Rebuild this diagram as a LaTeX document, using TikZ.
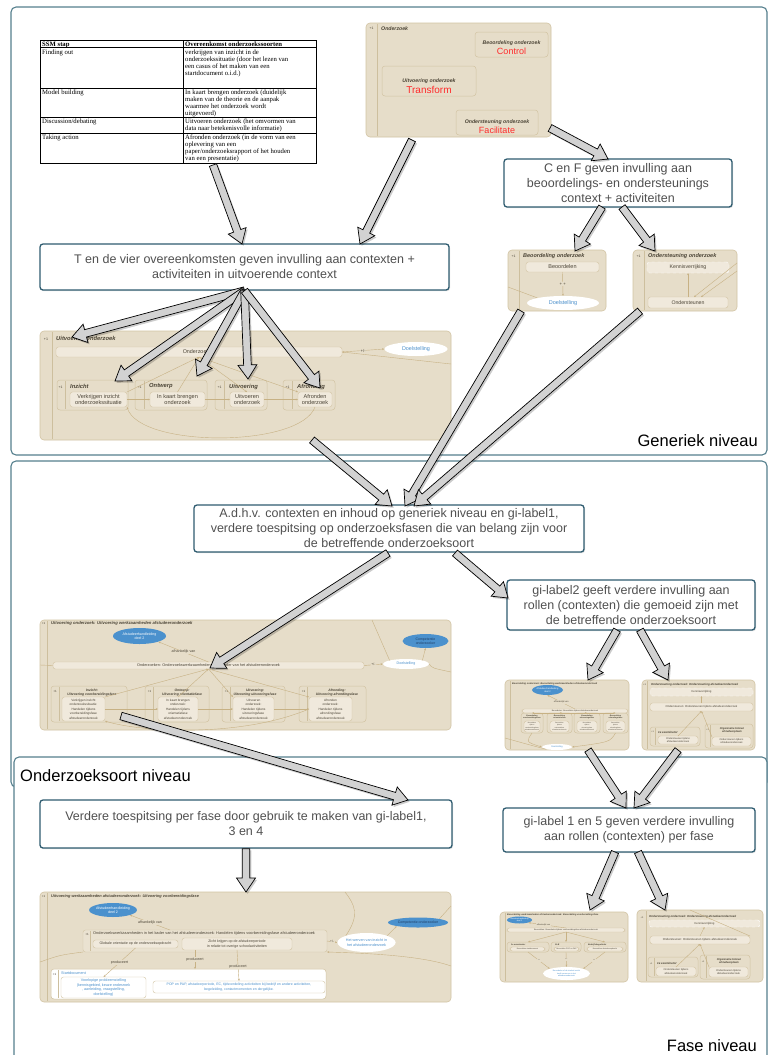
\documentclass[tikz,border=0pt]{standalone}
\usepackage{fontspec}
\setmainfont{Liberation Sans}
\newfontfamily\tabfont{Liberation Serif}
\usetikzlibrary{calc,shapes.geometric,arrows.meta,shadows}

\definecolor{frameC}{HTML}{557F8D}
\definecolor{callC}{HTML}{2F5C70}
\definecolor{callT}{HTML}{505050}
\definecolor{beige}{HTML}{E6DDC9}
\definecolor{beigeD}{HTML}{D2C4A3}
\definecolor{innerC}{HTML}{F0E9DC}
\definecolor{relC}{HTML}{C7B184}
\definecolor{blueE}{HTML}{4B91CD}
\definecolor{blueT}{HTML}{4A8FCB}
\definecolor{navyT}{HTML}{1F3F66}
\definecolor{redT}{HTML}{FF2B2B}
\definecolor{txt}{HTML}{4B4436}
\definecolor{stripC}{HTML}{CDBF9E}
\definecolor{arrF}{HTML}{D2D2D2}

\newcommand\fsz[2]{\fontsize{#1}{#2}\selectfont}
% wide outlined arrow from coordinate #1 to coordinate #2, with a soft shadow
\newcommand\fat[2]{%
  \path ($(#2)!14pt!(#1)$) coordinate (fh);
  \begin{scope}[transform canvas={shift={(1.6pt,-1.8pt)}}]
    \fill[fatshade] ($(#1)!3.8pt!90:(#2)$) -- ($(fh)!3.8pt!90:(#2)$) -- ($(fh)!9.5pt!90:(#2)$) -- (#2) -- ($(fh)!9.5pt!-90:(#2)$) -- ($(fh)!3.8pt!-90:(#2)$) -- ($(#1)!3.8pt!-90:(#2)$) -- cycle;
  \end{scope}
  \filldraw[fatbody] ($(#1)!3.8pt!90:(#2)$) -- ($(fh)!3.8pt!90:(#2)$) -- ($(fh)!9.5pt!90:(#2)$) -- (#2) -- ($(fh)!9.5pt!-90:(#2)$) -- ($(fh)!3.8pt!-90:(#2)$) -- ($(#1)!3.8pt!-90:(#2)$) -- cycle;
}

\begin{document}
\begin{tikzpicture}[x=1pt,y=-1pt,
  frame/.style={draw=frameC,line width=1.1pt,rounded corners=5pt,fill=white,anchor=north west,inner sep=0pt,outer sep=0pt},
  lvl/.style={inner sep=0pt,text=black,font=\fsz{16.5}{18}},
  callout/.style={draw=callC,line width=1.3pt,rounded corners=3pt,fill=white,text=callT,align=center,inner sep=0pt,font=\fsz{12.5}{15},drop shadow={opacity=.25,shadow xshift=1pt,shadow yshift=-1.2pt}},
  panel/.style={fill=beige,draw=beigeD,line width=.6pt,rounded corners=4pt,anchor=north west,inner sep=0pt,outer sep=0pt},
  sub/.style={draw=beigeD,line width=.5pt,rounded corners=3pt,anchor=north west,inner sep=0pt,outer sep=0pt},
  inb/.style={fill=innerC,draw=beigeD,line width=.4pt,rounded corners=2.5pt,anchor=north west,inner sep=0pt,outer sep=0pt,text=txt,align=center},
  ellB/.style={ellipse,fill=blueE,text=white,inner sep=0pt,align=center},
  ellW/.style={ellipse,fill=white,text=blueT,inner sep=0pt,align=center},
  strip/.style={draw=stripC,line width=.5pt},
  pl/.style={inner sep=0pt,text=txt,font=\fsz{#1}{#1}},
  tt/.style={inner sep=0pt,anchor=west,text=txt,font=\fsz{#1}{#1}\bfseries\itshape},
  rel/.style={draw=relC,line width=.4pt,-{Stealth[length=2.2pt,width=1.8pt]}},
  rl/.style={draw=relC,line width=.4pt},
  lb/.style={fill=beige,inner sep=.6pt,text=txt,font=\fsz{#1}{#1}},
  cell/.style={anchor=north west,inner sep=0pt,align=left,text=black,font=\tabfont\fsz{6.7}{7.1}},
  tabline/.style={draw=black,line width=.6pt},
  fatbody/.style={fill=arrF,draw=black,line width=.7pt,line join=miter},
  fatshade/.style={fill=black,opacity=.2,draw=none}
]
\useasboundingbox (0,0) rectangle (771,1055);

% ---------- level frames ----------
\node[frame,minimum width=756,minimum height=448] (lvA) at (11,7) {};
\node[frame,minimum width=756,minimum height=326] (lvB) at (11,461) {};
\node[frame,minimum width=753,minimum height=305] (lvC) at (14,757) {};
\node[lvl,anchor=base east] (lblA) at (758,446) {Generiek niveau};
\node[lvl,anchor=base west] (lblB) at (20,781) {Onderzoeksoort niveau};
\node[lvl,anchor=base east] (lblC) at (757,1051) {Fase niveau};

% ---------- SSM table ----------
\draw[tabline] (40,40) rectangle (316,163);
\draw[tabline] (183,40) -- (183,163);
\foreach \ry in {47.5,88,117,133} { \draw[tabline] (40,\ry) -- (316,\ry); }
\node[cell] (t11) at (42,41.6) {\bfseries SSM stap};
\node[cell] (t12) at (185,41.6) {\bfseries Overeenkomst onderzoekssoorten};
\node[cell] (t21) at (42,49.5) {Finding out};
\node[cell] (t22) at (185,49.5) {verkrijgen van inzicht in de\\onderzoekssituatie (door het lezen van\\een casus of het maken van een\\startdocument o.i.d.)};
\node[cell] (t31) at (42,89.5) {Model building};
\node[cell] (t32) at (185,89.5) {In kaart brengen onderzoek (duidelijk\\maken van de theorie en de aanpak\\waarmee het onderzoek wordt\\uitgevoerd)};
\node[cell] (t41) at (42,118.5) {Discussion/debating};
\node[cell] (t42) at (185,118.5) {Uitvoeren onderzoek (het omvormen van\\data naar betekenisvolle informatie)};
\node[cell] (t51) at (42,134.5) {Taking action};
\node[cell] (t52) at (185,134.5) {Afronden onderzoek (in de vorm van een\\oplevering van een\\paper/onderzoeksrapport of het houden\\van een presentatie)};

% ---------- Onderzoek (CTF) ----------
\node[panel,minimum width=185,minimum height=114] (op) at (366,23) {};
\draw[strip] (377,24) -- (377,136);
\node[pl=3.4] (opP) at (371.5,28.5) {+1};
\node[tt=5.2] (opT) at (381,28.5) {Onderzoek};
\node[sub,minimum width=73,minimum height=25] (opC) at (475,32) {};
\node[tt=5.2,anchor=center] (opCt) at (511.5,43) {Beoordeling onderzoek};
\node[inner sep=0pt,text=redT,font=\fsz{9}{9}] (opCr) at (511.5,51.5) {Control};
\node[sub,minimum width=94,minimum height=30] (opU) at (382,66) {};
\node[tt=5.2,anchor=center] (opUt) at (429,81) {Uitvoering onderzoek};
\node[inner sep=0pt,text=redT,font=\fsz{10}{10}] (opUr) at (429,90) {Transform};
\node[sub,minimum width=82,minimum height=25] (opF) at (456,110) {};
\node[tt=5.2,anchor=center] (opFt) at (497,122) {Ondersteuning onderzoek};
\node[inner sep=0pt,text=redT,font=\fsz{9}{9}] (opFr) at (497,130) {Facilitate};

% ---------- generic: Uitvoering onderzoek ----------
\node[panel,minimum width=411,minimum height=109] (gp) at (40,331) {};
\draw[strip] (52,332) -- (52,439);
\node[pl=3.6] (gpP) at (46,339) {+1};
\node[tt=5.8] (gpT) at (56,339) {Uitvoering onderzoek};
\node[inb,minimum width=286,minimum height=10,font=\fsz{5.4}{6}] (gbar) at (56,347) {Onderzoeken};
\node[ellW,minimum width=63,minimum height=14,font=\fsz{5.4}{6}] (gdoel) at (416,349) {Doelstelling};
\draw[rel] (gbar.east) -- node[lb=4.2] {+/-} (gdoel.west);

\node[sub,minimum width=71,minimum height=30] (gs1) at (57,380) {};
\draw[strip] (65,381) -- (65,409);
\node[pl=3.4] at (60.5,387) {+1};
\node[tt=5.8] (gs1t) at (70,386.5) {Inzicht};
\node[inb,minimum width=57,minimum height=15,font=\fsz{5.6}{6.4}] (gi1) at (70,392) {Verkrijgen inzicht\\onderzoekssituatie};

\node[sub,minimum width=72,minimum height=30] (gs2) at (135,380) {};
\draw[strip] (144,381) -- (144,409);
\node[pl=3.4] at (139.5,387) {+1};
\node[tt=5.8] (gs2t) at (149,386.5) {Ontwerp};
\node[inb,minimum width=55,minimum height=15,font=\fsz{5.6}{6.4}] (gi2) at (150,392) {In kaart brengen\\onderzoek};

\node[sub,minimum width=52,minimum height=30] (gs3) at (215,380) {};
\draw[strip] (224,381) -- (224,409);
\node[pl=3.4] at (219.5,387) {+1};
\node[tt=5.8] (gs3t) at (229,386.5) {Uitvoering};
\node[inb,minimum width=34,minimum height=15,font=\fsz{5.6}{6.4}] (gi3) at (230,392) {Uitvoeren\\onderzoek};

\node[sub,minimum width=52,minimum height=30] (gs4) at (283,380) {};
\draw[strip] (292,381) -- (292,409);
\node[pl=3.4] at (287.5,387) {+1};
\node[tt=5.8] (gs4t) at (297,386.5) {Afronding};
\node[inb,minimum width=34,minimum height=15,font=\fsz{5.6}{6.4}] (gi4) at (298,392) {Afronden\\onderzoek};

\draw[rel] (gi1.east) -- (gi2.west);
\draw[rel] (gi2.east) -- (gi3.west);
\draw[rel] (gi3.east) -- (gi4.west);
\draw[rel] (gi1.north east) -- (gbar.south);
\draw[rel] (gi2.north) -- (gbar.south);
\draw[rel] (gbar.south) -- (gi3.north);
\draw[rel] (gbar.south) -- (gi4.north west);
\draw[rel] (gi4.south) .. controls (300,448) and (140,448) .. (gi1.south east);
\coordinate (gpR) at (451,364);
\draw[rel] (gpR) -- (gbar.east);

% ---------- generic: Beoordeling onderzoek ----------
\node[panel,minimum width=98,minimum height=61] (bo) at (508,250) {};
\draw[strip] (519,251) -- (519,310);
\node[pl=3.4] at (513.5,256.5) {+1};
\node[tt=5.5] (bot) at (523,256.5) {Beoordeling onderzoek};
\node[inb,minimum width=73,minimum height=10,font=\fsz{5.5}{6}] (bbeo) at (526,262) {Beoordelen};
\node[ellW,minimum width=72,minimum height=14,font=\fsz{5.5}{6}] (bdoel) at (563,303) {Doelstelling};
\draw[rel] (bbeo.south) -- node[lb=4.2] {+ +} (bdoel.north);
\coordinate (boL) at (508,287);
\draw[rl] (boL) -- (bdoel.north west);

% ---------- generic: Ondersteuning onderzoek ----------
\node[panel,minimum width=104,minimum height=61] (oo) at (633,250) {};
\draw[strip] (644,251) -- (644,310);
\node[pl=3.4] at (638.5,256.5) {+1};
\node[tt=5.5] (oot) at (648,256.5) {Ondersteuning onderzoek};
\node[inb,minimum width=82,minimum height=11,font=\fsz{5.2}{6},draw=white,dashed] (oken) at (647,262) {Kennisverrijking};
\node[inb,minimum width=80,minimum height=11,font=\fsz{5.2}{6}] (oond) at (648,297) {Ondersteunen};
\draw[rel] (oond.north) -- (oken.south);
\coordinate (ooR1) at (737,263);
\coordinate (ooR2) at (737,271);
\coordinate (oondA) at (694,297);
\coordinate (oondB) at (701,297);
\draw[rel] (ooR1) -- (oondA);
\draw[rel] (ooR2) -- (oondB);

% ---------- type level: Uitvoering werkzaamheden ----------
\node[panel,minimum width=411,minimum height=110] (sp) at (40,620) {};
\draw[strip] (47.5,621) -- (47.5,729);
\node[pl=3] at (43.5,623.5) {+1};
\node[tt=4.2] (spT) at (51,623) {Uitvoering onderzoek: Uitvoering werkzaamheden afstudeeronderzoek};
\node[ellB,minimum width=53,minimum height=16,font=\fsz{3.6}{4.2}] (sah) at (139.5,636) {Afstudeerhandleiding\\deel 2};
\node[inb,minimum width=311,minimum height=7,font=\fsz{3.8}{4}] (sbar) at (53,662) {Onderzoeken: Onderzoekswerkzaamheden in het kader van het afstudeeronderzoek};
\draw[rel] (sbar.north) -- node[lb=3.6] {afhankelijk van} (sah.south east);
\node[ellW,minimum width=46,minimum height=10,font=\fsz{3.6}{4}] (sdoel) at (406,664) {Doelstelling};
\draw[rel] (sbar.east) -- node[lb=3.4] {+/-} (sdoel.west);
\node[ellB,minimum width=46,minimum height=14,font=\fsz{3.5}{4},text=navyT] (scomp) at (425.5,641) {Competentie\\onderzoeker};
\draw[rel] (sdoel.north east) -- (scomp.south);

\node[sub,minimum width=76,minimum height=36] (ss1) at (51,686) {};
\draw[strip] (59,687) -- (59,721);
\node[pl=3] at (55,691) {+1};
\node[tt=3.4,anchor=center,align=center] (ss1t) at (92,692.5) {Inzicht:\\Uitvoering voorbereidingsfase};
\node[inb,minimum width=43,minimum height=24,font=\fsz{3.2}{4.5}] (si1) at (62,697) {Verkrijgen inzicht\\onderzoekssituatie:\\Handelen tijdens\\voorbereidingsfase\\afstudeeronderzoek};

\node[sub,minimum width=64,minimum height=36] (ss2) at (145,686) {};
\draw[strip] (153,687) -- (153,721);
\node[pl=3] at (149.5,691) {+1};
\node[tt=3.4,anchor=center,align=center] (ss2t) at (182,692.5) {Ontwerp:\\Uitvoering orientatiefase};
\node[inb,minimum width=40,minimum height=24,font=\fsz{3.2}{4.5}] (si2) at (158,697) {In kaart brengen\\onderzoek:\\Handelen tijdens\\orientatiefase\\afstudeeronderzoek};

\node[sub,minimum width=63,minimum height=36] (ss3) at (222,686) {};
\draw[strip] (230,687) -- (230,721);
\node[pl=3] at (226.5,691) {+1};
\node[tt=3.4,anchor=center,align=center] (ss3t) at (255,692.5) {Uitvoering:\\Uitvoering uitvoeringsfase};
\node[inb,minimum width=41,minimum height=24,font=\fsz{3.2}{4.5}] (si3) at (233,697) {Uitvoeren\\onderzoek:\\Handelen tijdens\\uitvoeringsfase\\afstudeeronderzoek};

\node[sub,minimum width=67,minimum height=36] (ss4) at (299,686) {};
\draw[strip] (307,687) -- (307,721);
\node[pl=3] at (303.5,691) {+1};
\node[tt=3.4,anchor=center,align=center] (ss4t) at (337,692.5) {Afronding:\\Uitvoering afrondingsfase};
\node[inb,minimum width=43,minimum height=24,font=\fsz{3.2}{4.5}] (si4) at (309,697) {Afronden\\onderzoek:\\Handelen tijdens\\afrondingsfase\\afstudeeronderzoek};

\draw[rel] (si1.east) -- (si2.west);
\draw[rel] (si2.east) -- (si3.west);
\draw[rel] (si3.east) -- (si4.west);
\draw[rel] (si1.north east) -- (sbar.south);
\draw[rel] (si2.north) -- (sbar.south);
\draw[rel] (sbar.south) -- (si3.north west);
\draw[rel] (sbar.south) -- (si4.north west);
\draw[rel] (si4.west) .. controls (240,738) and (140,732) .. (si1.south east);
\coordinate (spTR) at (372,620);
\coordinate (spR) at (451,672);
\coordinate (spL) at (40,665);
\draw[rl] (spTR) -- (sdoel.north west);
\draw[rl] (sdoel.east) .. controls (432,668) .. (spR);
\draw[rl] (spL) -- (sbar.west);

% ---------- type level: Beoordeling (small) ----------
\node[panel,minimum width=124,minimum height=70] (ob) at (505,680) {};
\draw[strip] (510,681) -- (510,749);
\node[tt=2.4] (obt) at (512,683.5) {Beoordeling onderzoek: Beoordeling werkzaamheden afstudeeronderzoek};
\node[ellB,minimum width=31,minimum height=10,font=\fsz{2.3}{2.8}] (obah) at (547.5,690) {Afstudeerhandleiding\\deel 2};
\node[inb,minimum width=106,minimum height=4,font=\fsz{2}{2}] (obbar) at (522,709) {Beoordelen: Beoordelen tijdens afstudeeronderzoek};
\draw[rel] (obbar.north) -- node[lb=2.2] {afhankelijk van} (obah.south);
\node[sub,minimum width=22,minimum height=20] (obs1) at (521,713) {};
\node[tt=1.9,anchor=center,align=center] at (532,717) {Beoordeling\\voorbereidingsfase};
\node[inb,minimum width=16,minimum height=11,font=\fsz{1.6}{2.3}] (obi1) at (524,721) {Beoordelen\\tijdens\\voorbereidingsfase\\afstudeeronderzoek};
\node[sub,minimum width=25,minimum height=20] (obs2) at (547,713) {};
\node[tt=1.9,anchor=center,align=center] at (559.5,717) {Beoordeling\\orientatiefase};
\node[inb,minimum width=19,minimum height=11,font=\fsz{1.6}{2.3}] (obi2) at (550,721) {Beoordelen\\tijdens\\orientatiefase\\afstudeeronderzoek};
\node[sub,minimum width=26,minimum height=20] (obs3) at (574,713) {};
\node[tt=1.9,anchor=center,align=center] at (587,717) {Beoordeling\\uitvoeringsfase};
\node[inb,minimum width=20,minimum height=11,font=\fsz{1.6}{2.3}] (obi3) at (577,721) {Beoordelen\\tijdens\\uitvoeringsfase\\afstudeeronderzoek};
\node[sub,minimum width=25,minimum height=20] (obs4) at (603,713) {};
\node[tt=1.9,anchor=center,align=center] at (615.5,717) {Beoordeling\\afrondingsfase};
\node[inb,minimum width=19,minimum height=11,font=\fsz{1.6}{2.3}] (obi4) at (606,721) {Beoordelen\\tijdens\\afrondingsfase\\afstudeeronderzoek};
\node[ellW,minimum width=30,minimum height=6,font=\fsz{2.2}{2.4}] (obdoel) at (557,747) {Doelstelling};
\draw[rel] (obbar.south) -- (obs1.north);
\draw[rel] (obbar.south) -- (obs2.north);
\draw[rel] (obbar.south) -- (obs3.north);
\draw[rel] (obbar.south) -- (obs4.north);
\draw[rel] (obs1.south) .. controls (526,742) .. (obdoel.west);
\draw[rel] (obs4.south) .. controls (610,742) .. (obdoel.east);
\coordinate (obL) at (505,738);
\draw[rl] (obL) .. controls (530,745) .. (obdoel.south west);

% ---------- type level: Ondersteuning (small) ----------
\node[panel,minimum width=113,minimum height=70] (os) at (642,680) {};
\draw[strip] (647.5,681) -- (647.5,749);
\node[pl=2.4] at (644.5,684.5) {+1};
\node[tt=2.9] (ost) at (651,684.5) {Ondersteuning onderzoek: Ondersteuning afstudeeronderzoek};
\node[inb,minimum width=103,minimum height=8,font=\fsz{2.8}{3},draw=white,dashed] (osken) at (650,688) {Kennisverrijking};
\node[inb,minimum width=103,minimum height=8,font=\fsz{2.8}{3}] (osond) at (650,703) {Ondersteunen: Ondersteunen tijdens afstudeeronderzoek};
\draw[rel] (osond.north) -- (osken.south);
\node[sub,minimum width=50,minimum height=19] (oss1) at (650,727) {};
\draw[strip] (655,728) -- (655,745);
\node[pl=2.2] at (652.5,732) {+1};
\node[tt=2.9] (oss1t) at (658,732) {1e examinator};
\node[inb,minimum width=40,minimum height=8,font=\fsz{2.5}{3}] (osi1) at (658,736) {Ondersteunen tijdens\\afstudeeronderzoek};
\node[sub,minimum width=48,minimum height=24] (oss2) at (705,724) {};
\draw[strip] (710,725) -- (710,747);
\node[pl=2.2] at (707.5,730) {+1};
\node[tt=2.7,anchor=center,align=center] (oss2t) at (732,730) {Organisatie binnen\\afstudeerplaats};
\node[inb,minimum width=39,minimum height=9,font=\fsz{2.5}{3}] (osi2) at (712,737) {Ondersteunen tijdens\\afstudeeronderzoek};
\draw[rel] (osi1.north) -- (osond.south);
\draw[rel] (osi2.north west) -- (osond.south);

% ---------- phase level: voorbereidingsfase ----------
\node[panel,minimum width=411,minimum height=110] (fp) at (40,892) {};
\draw[strip] (47.5,893) -- (47.5,1001);
\node[pl=3] at (43.5,896) {+1};
\node[tt=3.9] (fpT) at (51,896) {Uitvoering werkzaamheden afstudeeronderzoek: Uitvoering voorbereidingsfase};
\node[ellB,minimum width=46,minimum height=14,font=\fsz{3.6}{4.3}] (fah) at (113,910) {Afstudeerhandleiding\\deel 2};
\node[inb,fill=beige!60!innerC,minimum width=244,minimum height=22] (fmain) at (83,930) {};
\draw[strip] (90.5,931) -- (90.5,951);
\node[pl=3] at (87,934) {+1};
\node[inner sep=0pt,anchor=west,text=txt,font=\fsz{3.9}{4}] (fmainT) at (93,933.8) {Onderzoekswerkzaamheden in het kader van het afstudeeronderzoek: Handelen tijdens voorbereidingsfase afstudeeronderzoek};
\node[inb,minimum width=85,minimum height=8,font=\fsz{3.6}{4}] (fg1) at (93,940) {Globale orientatie op de onderzoeksopdracht};
\node[inb,minimum width=110,minimum height=12,font=\fsz{3.6}{4.4}] (fg2) at (182,938) {Zicht krijgen op de afstudeerperiode\\in relatie tot overige schoolactiviteiten};
\node[ellW,minimum width=57,minimum height=19,font=\fsz{3.7}{4.5}] (fwerf) at (366.5,942.5) {Het werven van inzicht in\\het afstudeeronderzoek};
\draw[rel] (fmain.east) -- node[lb=3.2] {+/-} (fwerf.west);
\node[ellB,minimum width=60,minimum height=10,font=\fsz{3.5}{4},text=navyT] (fcomp) at (418,922.5) {Competentie onderzoeker};
\draw[rel] (fwerf.north east) -- (fcomp.south west);
\coordinate (fmT) at (170,930);
\draw[rel] (fmT) -- node[lb=3.6] {afhankelijk van} (fah.south east);

\node[sub,fill=white,minimum width=275,minimum height=30] (fstart) at (51,969) {};
\draw[strip] (58,970) -- (58,998);
\node[pl=3] at (54.5,974) {+1};
\node[inner sep=0pt,anchor=west,text=blueT,font=\fsz{3.8}{4}] (fstartT) at (61,973) {Startdocument};
\node[inb,fill=white,text=blueT,minimum width=85,minimum height=21,font=\fsz{3.7}{4.7}] (fd1) at (61,977) {Voorlopige probleemstelling\\(kennisgebied, keuze onderzoek\\, aanleiding, vraagstelling,\\doelstelling)};
\node[inb,fill=white,text=blueT,minimum width=172,minimum height=12,font=\fsz{3.5}{4.6}] (fd2) at (153,981) {POP en PAP, afstudeerperiode, EC, tijdsverdeling activiteiten bij bedrijf en andere activiteiten,\\begeleiding, contactmomenten en dergelijke.};
\draw[rel] (fg1.south) -- node[lb=3.6] {produceert} (fd1.north);
\coordinate (fg2a) at (195,950);
\coordinate (fsTop) at (195,969);
\draw[rel] (fg2a) -- node[lb=3.6] {produceert} (fsTop);
\draw[rel] (fg2.south) -- node[lb=3.6,pos=.55] {produceert} (fd2.north);
\coordinate (fpA) at (451,906);
\coordinate (fpB) at (451,966);
\coordinate (fpC) at (40,962);
\coordinate (fpD) at (345,892);
\draw[rl] (fcomp.north east) -- (fpA);
\draw[rel] (fpB) .. controls (420,955) and (360,953) .. (fmain.south east);
\draw[rl] (fpC) .. controls (60,955) .. (fmain.south west);
\draw[rl] (fpD) .. controls (355,905) and (360,915) .. (fwerf.north west);

% ---------- phase level: Beoordeling (small) ----------
\node[panel,minimum width=128,minimum height=70] (fl) at (500,912) {};
\draw[strip] (505,913) -- (505,981);
\node[tt=2.3] (flt) at (507,914.5) {Beoordeling werkzaamheden afstudeeronderzoek: Beoordeling voorbereidingsfase};
\node[ellB,minimum width=25,minimum height=7,font=\fsz{1.9}{2.2}] (flah) at (519.5,920) {Afstudeerhandleiding\\deel 2};
\node[inb,minimum width=118,minimum height=4,font=\fsz{2}{2}] (flbar) at (507,928) {Beoordelen: Beoordelen tijdens voorbereidingsfase afstudeeronderzoek};
\draw[rel] (flbar.north) -- node[lb=2,pos=.6] {afhankelijk van} (flah.south east);
\node[sub,minimum width=42,minimum height=10] (fls1) at (507,942) {};
\node[tt=2.1] (fls1t) at (511,944.5) {1e examinator};
\node[inb,minimum width=35,minimum height=4,font=\fsz{1.8}{2}] (fli1) at (510,947) {Beoordelen startdocument};
\node[sub,minimum width=30,minimum height=10] (fls2) at (551,942) {};
\node[tt=2.1] (fls2t) at (555,944.5) {SLB};
\node[inb,minimum width=25,minimum height=4,font=\fsz{1.8}{2}] (fli2) at (554,947) {Beoordelen POP en PAP};
\node[sub,minimum width=42,minimum height=10] (fls3) at (584,942) {};
\node[tt=2.1] (fls3t) at (588,944.5) {Bedrijfsbegeleider};
\node[inb,minimum width=36,minimum height=4,font=\fsz{1.8}{2}] (fli3) at (587,947) {Beoordelen afstudeeropdracht};
\node[ellW,minimum width=47,minimum height=13,font=\fsz{1.9}{2.5}] (flw) at (566.5,973.5) {Beoordelen of de student inzicht\\heeft verworven in het\\afstudeeronderzoek};
\draw[rel] (flbar.south) -- (fls1.north);
\draw[rel] (flbar.south) -- (fls2.north);
\draw[rel] (flbar.south) -- (fls3.north);
\draw[rel] (fls1.south) -- node[lb=1.8] {++} (flw.north west);
\draw[rel] (fls2.south) -- node[lb=1.8] {++} (flw.north);
\draw[rel] (fls3.south) -- node[lb=1.8] {++} (flw.north east);

% ---------- phase level: Ondersteuning (small) ----------
\node[panel,minimum width=126,minimum height=72] (fr) at (637,910) {};
\draw[strip] (646,911) -- (646,981);
\node[pl=2.4] at (642,918) {+1};
\node[tt=2.9] (frt) at (649,916.5) {Ondersteuning onderzoek: Ondersteuning afstudeeronderzoek};
\node[inb,minimum width=111,minimum height=7,font=\fsz{2.8}{3},draw=white,dashed] (frken) at (649,920) {Kennisverrijking};
\node[inb,minimum width=100,minimum height=8,font=\fsz{2.9}{3}] (frond) at (650,936) {Ondersteunen: Ondersteunen tijdens afstudeeronderzoek};
\draw[rel] (frond.north) -- (frken.south);
\node[sub,minimum width=50,minimum height=20] (frs1) at (648,957) {};
\draw[strip] (654,958) -- (654,976);
\node[pl=2.2] at (651,964) {+1};
\node[tt=2.9] (frs1t) at (657,963) {1e examinator};
\node[inb,minimum width=40,minimum height=9,font=\fsz{2.6}{3.2}] (fri1) at (656,967) {Ondersteunen tijdens\\afstudeeronderzoek};
\node[sub,minimum width=50,minimum height=24] (frs2) at (700,955) {};
\draw[strip] (706,956) -- (706,978);
\node[pl=2.2] at (703,962) {+1};
\node[tt=2.7,anchor=center,align=center] (frs2t) at (729,961) {Organisatie binnen\\afstudeerplaats};
\node[inb,minimum width=39,minimum height=10,font=\fsz{2.6}{3.2}] (fri2) at (709,967) {Ondersteunen tijdens\\afstudeeronderzoek};
\draw[rel] (fri1.north) -- (frond.south);
\draw[rel] (fri2.north west) -- (frond.south);
\coordinate (frT) at (690,910);
\draw[rl] (frT) -- (frond.north east);

% ---------- explanation callouts ----------
\node[callout,minimum width=228,minimum height=48] (cf) at (618,183) {C en F geven invulling aan\\beoordelings- en ondersteunings\\context + activiteiten};
\node[callout,minimum width=409,minimum height=46] (tv) at (244.5,267) {T en de vier overeenkomsten geven invulling aan contexten +\\activiteiten in uitvoerende context};
\node[callout,minimum width=390,minimum height=47] (adhv) at (389,528.5) {A.d.h.v. contexten en inhoud op generiek niveau en gi-label1,\\verdere toespitsing op onderzoeksfasen die van belang zijn voor\\de betreffende onderzoeksoort};
\node[callout,minimum width=248,minimum height=50] (gl2) at (631,605) {gi-label2 geeft verdere invulling aan\\rollen (contexten) die gemoeid zijn met\\de betreffende onderzoeksoort};
\node[callout,minimum width=412,minimum height=48] (vt) at (246,824) {Verdere toespitsing per fase door gebruik te maken van gi-label1,\\3 en 4};
\node[callout,minimum width=252,minimum height=44] (gl15) at (629,830) {gi-label 1 en 5 geven verdere invulling\\aan rollen (contexten) per fase};

% ---------- wide arrows ----------
\coordinate (a1s) at (213,165);  \coordinate (a1e) at (242,244);
\coordinate (a2s) at (412,140);  \coordinate (a2e) at (360,244);
\coordinate (a3s) at (550,128);  \coordinate (a3e) at (608,159);
\coordinate (a4s) at (602,207);  \coordinate (a4e) at (575,251);
\coordinate (a5s) at (622,207);  \coordinate (a5e) at (655,251);
\coordinate (f0) at (tv.south);
\coordinate (f1) at (72,337);
\coordinate (f2) at (115,381);
\coordinate (f3) at (197,376);
\coordinate (f4) at (248,379);
\coordinate (f5) at (320,388);
\coordinate (b1s) at (312,440);  \coordinate (b1e) at (392,506);
\coordinate (b2s) at (521,311);  \coordinate (b2e) at (405,506);
\coordinate (b3s) at (640,311);  \coordinate (b3e) at (414,506);
\coordinate (c1s) at (388,553);  \coordinate (c1e) at (210,668);
\coordinate (c2s) at (455,553);  \coordinate (c2e) at (508,598);
\coordinate (c3s) at (617,630);  \coordinate (c3e) at (588,680);
\coordinate (c4s) at (640,630);  \coordinate (c4e) at (668,680);
\coordinate (c5s) at (121,716);  \coordinate (c5e) at (408,800);
\coordinate (c6s) at (588,750);  \coordinate (c6e) at (626,808);
\coordinate (c7s) at (678,750);  \coordinate (c7e) at (634,808);
\coordinate (d1s) at (vt.south); \coordinate (d1e) at (246,892);
\coordinate (d2s) at (615,852);  \coordinate (d2e) at (590,910);
\coordinate (d3s) at (638,852);  \coordinate (d3e) at (665,910);

\fat{a1s}{a1e}
\fat{a2s}{a2e}
\fat{a3s}{a3e}
\fat{a4s}{a4e}
\fat{a5s}{a5e}
\fat{f0}{f1}
\fat{f0}{f2}
\fat{f0}{f3}
\fat{f0}{f4}
\fat{f0}{f5}
\fat{b1s}{b1e}
\fat{b2s}{b2e}
\fat{b3s}{b3e}
\fat{c1s}{c1e}
\fat{c2s}{c2e}
\fat{c3s}{c3e}
\fat{c4s}{c4e}
\fat{c5s}{c5e}
\fat{c6s}{c6e}
\fat{c7s}{c7e}
\fat{d1s}{d1e}
\fat{d2s}{d2e}
\fat{d3s}{d3e}
\end{tikzpicture}
\end{document}
